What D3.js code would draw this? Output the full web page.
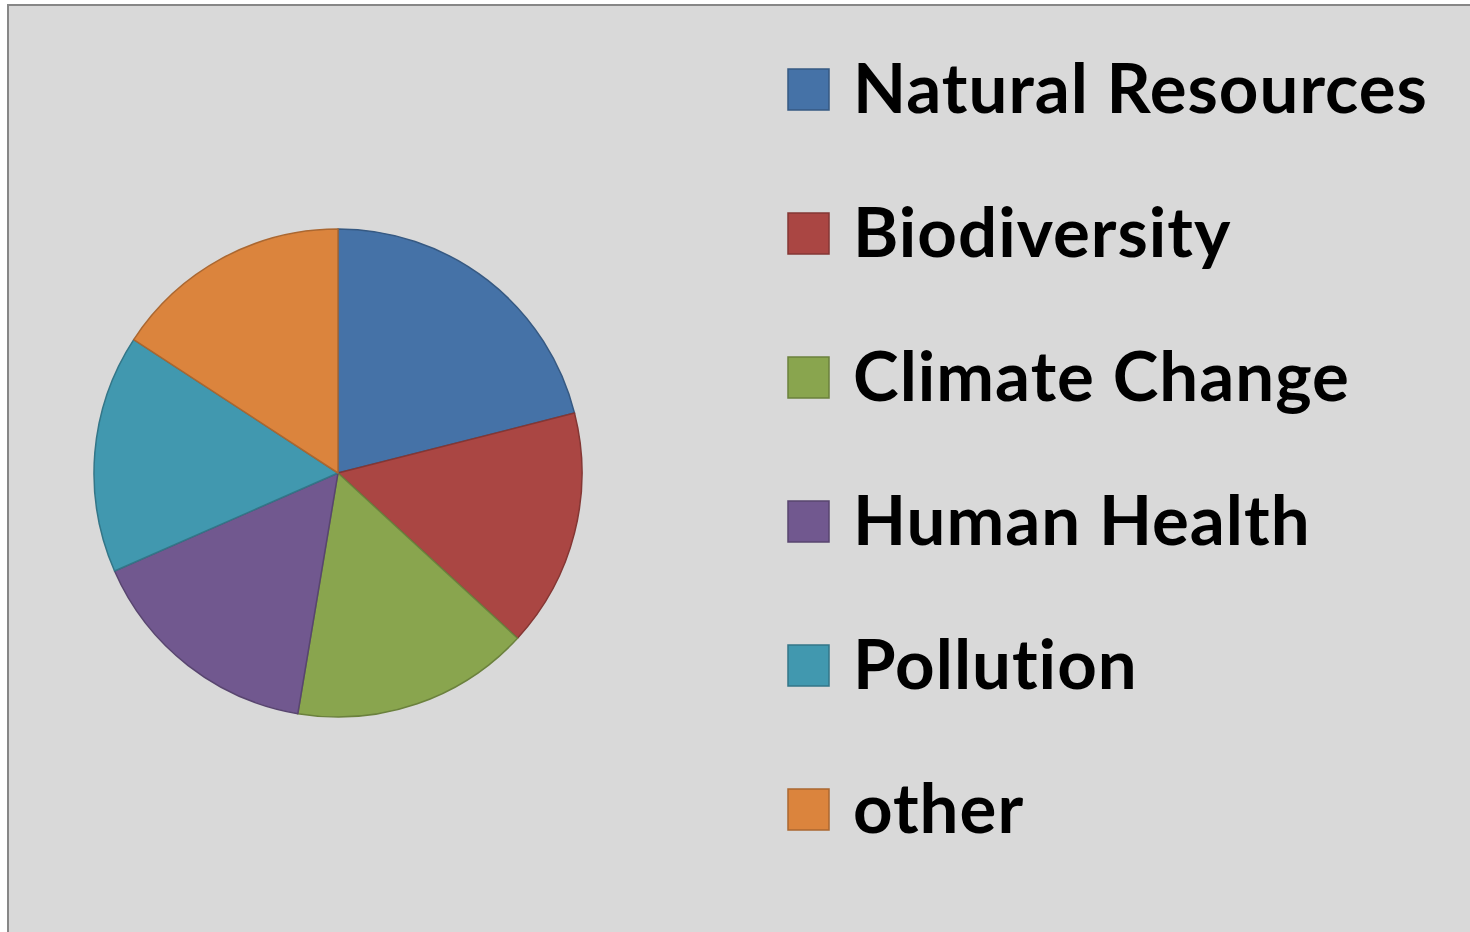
<!DOCTYPE html>
<html>
<head>
<meta charset="utf-8">
<script src="https://cdn.jsdelivr.net/npm/d3@7"></script>
<style>
  html, body { margin: 0; padding: 0; background: #ffffff; }
  svg { display: block; }
</style>
</head>
<body>
<script>
// Topic shares shown in the pie
const categories = ["Natural Resources", "Biodiversity", "Climate Change", "Human Health", "Pollution", "other"];
const values = [4, 3, 3, 3, 3, 3];
const fills = ["#4572A7", "#AA4643", "#89A54E", "#71588F", "#4198AF", "#DB843D"];

const W = 1470, H = 932;
const svg = d3.select("body").append("svg").attr("width", W).attr("height", H);

// chart area background with a grey frame on the top and left
svg.append("rect").attr("x", 0).attr("y", 0).attr("width", W).attr("height", H).attr("fill", "#ffffff");
svg.append("rect").attr("x", 8).attr("y", 5).attr("width", W + 10).attr("height", H + 10)
  .attr("fill", "#d9d9d9").attr("stroke", "#878787").attr("stroke-width", 2);

const data = categories.map((c, i) => ({ name: c, value: values[i], color: fills[i] }));

const cx = 338, cy = 473, R = 244;
const pie = d3.pie().value(d => d.value).sort(null);
const arc = d3.arc().innerRadius(0).outerRadius(R);

const g = svg.append("g").attr("transform", `translate(${cx},${cy})`);
g.selectAll("path").data(pie(data)).join("path")
  .attr("d", arc)
  .attr("fill", d => d.data.color)
  .attr("stroke", d => d3.color(d.data.color).darker(0.7))
  .attr("stroke-width", 1.5)
  .attr("stroke-linejoin", "round");

// legend
const y = d3.scalePoint().domain(categories).range([90, 810]);
const leg = svg.append("g");
const items = leg.selectAll("g").data(data).join("g")
  .attr("transform", d => `translate(788,${y(d.name)})`);
items.append("rect")
  .attr("x", 0).attr("y", -21).attr("width", 41).attr("height", 41)
  .attr("fill", d => d.color)
  .attr("stroke", d => d3.color(d.color).darker(0.7))
  .attr("stroke-width", 1.5);
items.append("text")
  .attr("x", 65).attr("y", 23)
  .attr("font-family", "Lato, 'Open Sans', sans-serif")
  .attr("font-weight", "bold")
  .attr("font-size", 69)
  .attr("letter-spacing", 1)
  .style("font-variant-ligatures", "none")
  .style("font-feature-settings", "'liga' 0, 'clig' 0")
  .attr("fill", "#000")
  .text(d => d.name);
</script>
</body>
</html>
